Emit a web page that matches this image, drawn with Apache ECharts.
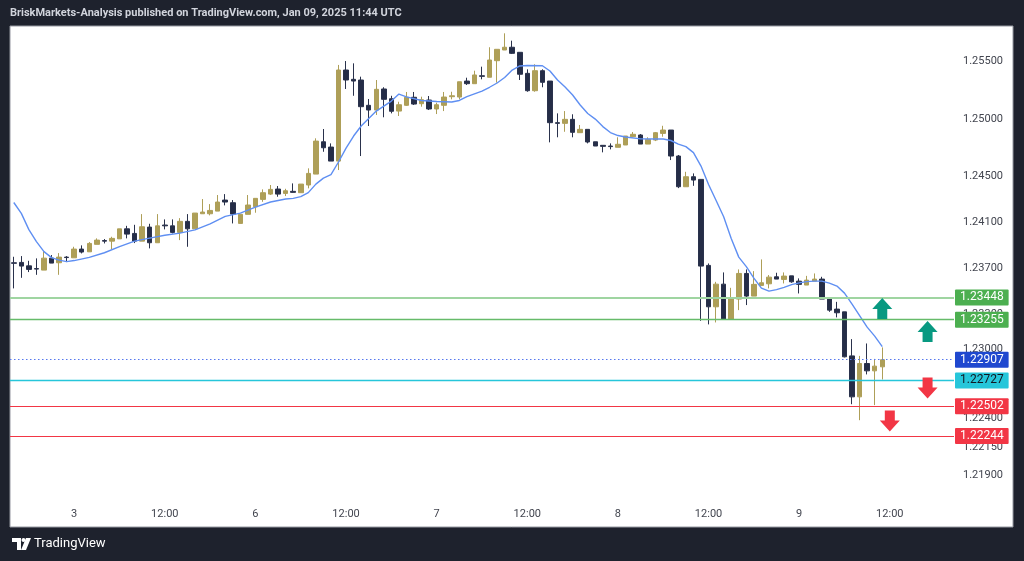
<!DOCTYPE html>
<html><head><meta charset="utf-8">
<script src="https://cdn.jsdelivr.net/npm/echarts@6/dist/echarts.min.js"></script>
<style>html,body{margin:0;padding:0;background:#1e222d;}#c{width:1024px;height:561px;}</style>
</head><body><div id="c"></div>
<script>
// hourly candles from Jan 2 16:00 to Jan 9 11:00 (weekend gap removed)
const tickLabels = ['3','12:00','6','12:00','7','12:00','8','12:00','9','12:00'];
const priceTicks = [1.255,1.25,1.245,1.241,1.237,1.233,1.23,1.224,1.2215,1.219];
const open = [1.23750,1.23753,1.23723,1.23699,1.23686,1.23790,1.23750,1.23799,1.23793,1.23869,
1.23845,1.23910,1.23943,1.23938,1.23958,1.24045,1.24005,1.23938,1.24060,1.23924,
1.24078,1.24071,1.24014,1.24110,1.24045,1.24176,1.24176,1.24199,1.24295,1.24272,
1.24092,1.24171,1.24237,1.24301,1.24347,1.24391,1.24353,1.24371,1.24359,1.24426,
1.24521,1.24802,1.24756,1.24634,1.25426,1.25345,1.25339,1.25119,1.25078,1.25261,
1.25176,1.25069,1.25119,1.25189,1.25133,1.25165,1.25087,1.25119,1.25194,1.25191,
1.25330,1.25307,1.25376,1.25363,1.25507,1.25600,1.25624,1.25580,1.25397,1.25246,
1.25420,1.25330,1.24968,1.24962,1.24997,1.24881,1.24910,1.24802,1.24771,1.24765,
1.24754,1.24774,1.24846,1.24861,1.24782,1.24817,1.24875,1.24904,1.24678,1.24411,
1.24498,1.24475,1.23727,1.23367,1.23564,1.23260,1.23434,1.23657,1.23460,1.23553,
1.23567,1.23628,1.23605,1.23636,1.23590,1.23556,1.23590,1.23608,1.23440,1.23347,
1.23323,1.22940,1.22584,1.22874,1.22810,1.22845];
const close = [1.23745,1.23721,1.23692,1.23695,1.23790,1.23747,1.23799,1.23795,1.23869,1.23843,
1.23918,1.23947,1.23938,1.23962,1.24045,1.23999,1.23938,1.24063,1.23924,1.24071,
1.24071,1.24014,1.24110,1.24045,1.24182,1.24191,1.24205,1.24278,1.24278,1.24173,
1.24171,1.24252,1.24310,1.24359,1.24388,1.24347,1.24376,1.24362,1.24434,1.24527,
1.24808,1.24750,1.24634,1.25426,1.25339,1.25330,1.25107,1.25078,1.25258,1.25171,
1.25067,1.25124,1.25189,1.25130,1.25168,1.25087,1.25124,1.25191,1.25202,1.25324,
1.25307,1.25383,1.25371,1.25513,1.25606,1.25624,1.25571,1.25389,1.25246,1.25420,
1.25319,1.24968,1.24962,1.24997,1.24884,1.24910,1.24800,1.24765,1.24762,1.24760,
1.24780,1.24852,1.24867,1.24782,1.24823,1.24881,1.24904,1.24678,1.24411,1.24498,
1.24469,1.23721,1.23367,1.23564,1.23260,1.23436,1.23657,1.23460,1.23562,1.23576,
1.23625,1.23608,1.23634,1.23584,1.23562,1.23599,1.23608,1.23434,1.23338,1.23315,
1.22932,1.22584,1.22874,1.22810,1.22851,1.22907];
const low = [1.23527,1.23619,1.23669,1.23645,1.23686,1.23747,1.23645,1.23756,1.23793,1.23831,
1.23845,1.23910,1.23918,1.23869,1.23958,1.23962,1.23921,1.23938,1.23875,1.23924,
1.24040,1.24005,1.23947,1.23889,1.24045,1.24176,1.24162,1.24199,1.24249,1.24092,
1.24092,1.24171,1.24185,1.24280,1.24339,1.24324,1.24330,1.24359,1.24359,1.24397,
1.24521,1.24715,1.24634,1.24556,1.25261,1.25202,1.24678,1.24939,1.25035,1.25015,
1.25049,1.25026,1.25113,1.25122,1.25107,1.25078,1.25043,1.25069,1.25171,1.25171,
1.25296,1.25307,1.25345,1.25363,1.25316,1.25600,1.25565,1.25339,1.25237,1.25237,
1.25276,1.24797,1.24841,1.24889,1.24841,1.24881,1.24788,1.24765,1.24710,1.24736,
1.24754,1.24774,1.24841,1.24782,1.24782,1.24808,1.24846,1.24643,1.24399,1.24411,
1.24419,1.23245,1.23214,1.23231,1.23260,1.23260,1.23338,1.23382,1.23460,1.23553,
1.23527,1.23608,1.23570,1.23576,1.23483,1.23556,1.23590,1.23434,1.23323,1.23275,
1.22927,1.22520,1.22381,1.22779,1.22512,1.22735];
const high = [1.23802,1.23808,1.23767,1.23788,1.23854,1.23817,1.23834,1.23808,1.23889,1.23901,
1.23930,1.23962,1.23956,1.23976,1.24045,1.24071,1.24080,1.24173,1.24089,1.24173,
1.24127,1.24127,1.24138,1.24173,1.24182,1.24304,1.24260,1.24339,1.24347,1.24295,
1.24171,1.24339,1.24310,1.24388,1.24426,1.24417,1.24393,1.24440,1.24434,1.24571,
1.24832,1.24913,1.24788,1.25470,1.25504,1.25484,1.25368,1.25174,1.25339,1.25276,
1.25202,1.25150,1.25235,1.25235,1.25194,1.25200,1.25142,1.25235,1.25237,1.25324,
1.25359,1.25420,1.25455,1.25624,1.25606,1.25745,1.25681,1.25580,1.25432,1.25476,
1.25432,1.25330,1.25049,1.25069,1.25041,1.24948,1.24910,1.24802,1.24771,1.24788,
1.24841,1.24852,1.24887,1.24869,1.24841,1.24887,1.24941,1.24904,1.24687,1.24541,
1.24527,1.24475,1.23744,1.23584,1.23666,1.23532,1.23692,1.23692,1.23677,1.23779,
1.23643,1.23663,1.23666,1.23636,1.23614,1.23636,1.23657,1.23628,1.23440,1.23410,
1.23323,1.23086,1.22940,1.23048,1.22914,1.23014];
// moving average readings [candle index, price]
const maPoints = [[0,1.24274],[1,1.24179],[2,1.24038],[3,1.23934],[4,1.23847],[5,1.23795],[6,1.23773],[7,1.23760],[8,1.23769],
[10,1.23797],[12,1.23837],[14,1.23890],[16,1.23938],[18,1.23964],[20,1.23989],[22,1.24008],[24,1.24036],[26,1.24088],[28,1.24153],
[30,1.24182],[32,1.24234],[34,1.24278],[36,1.24304],[37,1.24310],[38,1.24325],[39,1.24360],[40,1.24434],[41,1.24486],[42,1.24517],
[43,1.24626],[44,1.24747],[45,1.24852],[46,1.24939],[48,1.25069],[50,1.25156],[51,1.25217],[52,1.25193],[54,1.25161],[56,1.25152],
[58,1.25148],[59,1.25161],[60,1.25195],[62,1.25243],[63,1.25276],[64,1.25313],[65,1.25361],[66,1.25426],[67,1.25461],[68,1.25465],
[70,1.25463],[71,1.25417],[72,1.25339],[73,1.25278],[74,1.25209],[75,1.25122],[76,1.25048],[77,1.24999],[78,1.24934],[79,1.24882],
[80,1.24856],[81,1.24843],[83,1.24827],[85,1.24826],[86,1.24826],[87,1.24813],[88,1.24782],[89,1.24760],[90,1.24708],[91,1.24591],
[92,1.24430],[93,1.24291],[94,1.24150],[95,1.23960],[96,1.23799],[97,1.23716],[98,1.23616],[99,1.23529],[100,1.23503],[101,1.23516],
[102,1.23536],[103,1.23560],[104,1.23575],[105,1.23586],[106,1.23590],[107,1.23590],[108,1.23573],[109,1.23547],[110,1.23486],
[111,1.23390],[112,1.23290],[113,1.23190],[114,1.23112],[115,1.23020]];
const levels = [
  {v:1.23448, line:'#9fd5a1', w:2, type:'solid', box:'#4caf50', txt:'#ffffff'},
  {v:1.23255, line:'#66bb6a', w:1.3, type:'solid', box:'#4caf50', txt:'#ffffff'},
  {v:1.22907, line:'#5577ee', w:1.2, type:[1.5,2.5], box:'#1f48cf', txt:'#ffffff'},
  {v:1.22727, line:'#26c6da', w:1.3, type:'solid', box:'#26c6da', txt:'#131722'},
  {v:1.22502, line:'#f23645', w:1.2, type:'solid', box:'#f23645', txt:'#ffffff'},
  {v:1.22244, line:'#f23645', w:1.2, type:'solid', box:'#f23645', txt:'#ffffff'}
];
const upArrows = [[115,1.23352],[121,1.23152]];
const downArrows = [[121,1.22661],[116,1.22374]];

const nSlots = 125;
const categories = [];
for (let i = 0; i < nSlots; i++) categories.push('c' + i);
const candles = open.map((o, i) => [o, close[i], low[i], high[i]]);

const upPath = 'path://M10,0 L20,11 L15,11 L15,21 L5,21 L5,11 L0,11 Z';
const downPath = 'path://M5,0 L15,0 L15,10 L20,10 L10,21 L0,10 L5,10 Z';

const chart = echarts.init(document.getElementById('c'), null, {renderer:'canvas'});
chart.setOption({
  backgroundColor: '#1e222d',
  animation: false,
  graphic: [
    {type:'rect', z:-10, shape:{x:10, y:26, width:1003, height:501}, style:{fill:'#ffffff', stroke:'#9598a1', lineWidth:1}},
    {type:'text', left:10, top:8, style:{text:'BriskMarkets-Analysis published on TradingView.com, Jan 09, 2025 11:44 UTC', fill:'#d1d4dc', font:'bold 11px Roboto'}},
    {type:'polygon', shape:{points:[[12,538],[21,538],[21,550],[17,550],[17,542],[12,542]]}, style:{fill:'#ffffff'}},
    {type:'circle', shape:{cx:23.5, cy:540, r:2}, style:{fill:'#ffffff'}},
    {type:'polygon', shape:{points:[[26,538],[31,538],[26,550],[21,550]]}, style:{fill:'#ffffff'}},
    {type:'text', left:34, top:537, style:{text:'TradingView', fill:'#ffffff', font:'13px Roboto'}}
  ],
  grid: {left:10, right:70, top:27, height:473, containLabel:false},
  xAxis: {
    type:'category', data:categories, boundaryGap:true,
    axisLine:{show:false}, axisTick:{show:false}, splitLine:{show:false},
    axisLabel:{
      interval:(idx) => idx % 12 === 8,
      formatter:(v, idx) => tickLabels[(idx - 8) / 12] || '',
      color:'#42454f', fontSize:11, fontFamily:'Roboto', margin:9
    }
  },
  yAxis: {
    type:'value', position:'right', min:1.21687, max:1.25800, scale:true,
    axisLine:{show:false}, axisTick:{show:false}, splitLine:{show:false},
    axisLabel:{customValues:priceTicks, formatter:(v) => v.toFixed(5), color:'#42454f', fontSize:11, fontFamily:'Roboto', margin:9, align:'left'}
  },
  series: [
    {
      type:'candlestick', data:candles, barWidth:5,
      itemStyle:{color:'#ae9f58', color0:'#252d47', borderColor:'#ae9f58', borderColor0:'#2a324c', borderWidth:1},
      markPoint:{
        silent:true,
        data: upArrows.map(a => ({coord:a, symbol:upPath, symbolSize:[20,21], itemStyle:{color:'#089981'}, label:{show:false}}))
          .concat(downArrows.map(a => ({coord:a, symbol:downPath, symbolSize:[20,21], itemStyle:{color:'#f23645'}, label:{show:false}})))
      }
    },
    {
      type:'line', data:maPoints, showSymbol:false, symbol:'none', smooth:false,
      lineStyle:{color:'#5f8ff2', width:1.4}, z:3
    },
    {
      type:'line', data:[], z:2,
      markLine:{
        silent:true, symbol:['none','none'], precision:5,
        data: levels.map(l => ({
          yAxis:l.v,
          lineStyle:{color:l.line, width:l.w, type:l.type},
          label:{show:true, position:'end', distance:1, formatter:l.v.toFixed(5), color:l.txt,
            backgroundColor:l.box, padding:[2,5,2,5], fontSize:12, fontFamily:'Roboto', borderRadius:1}
        }))
      }
    }
  ]
});
</script></body></html>
